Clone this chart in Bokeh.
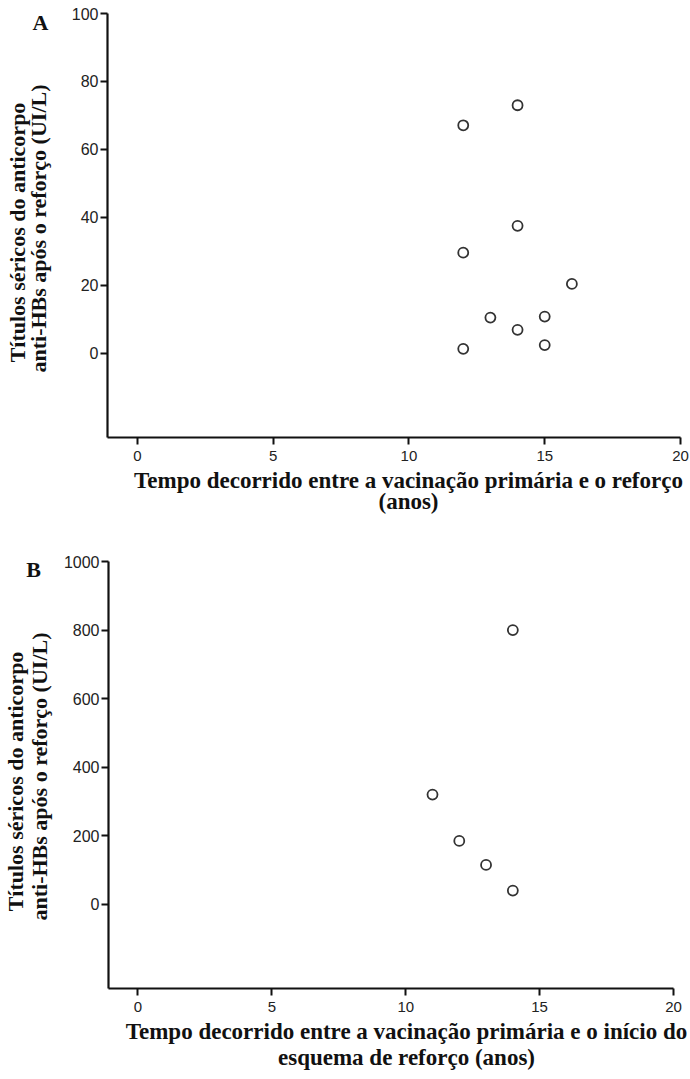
from bokeh.plotting import figure
from bokeh.layouts import column, row
from bokeh.models import Range1d, FixedTicker
from bokeh.core.properties import value
from bokeh.embed import file_html
from bokeh.resources import INLINE
import math

# Panel A: interval primary vaccination -> booster (years) vs anti-HBs titre (UI/L)
years_a = [14, 12, 14, 12, 16, 13, 15, 14, 15, 12]
titre_a = [73.0, 67.1, 37.5, 29.6, 20.4, 10.5, 10.8, 6.9, 2.4, 1.3]

# Panel B: interval primary vaccination -> start of booster schedule (years)
years_b = [14, 11, 12, 13, 14]
titre_b = [800, 320, 185, 115, 40]

x_ticks = [0, 5, 10, 15, 20]
y_ticks_a = [0, 20, 40, 60, 80, 100]
y_ticks_b = [0, 200, 400, 600, 800, 1000]

ylabel_1 = "Títulos séricos do anticorpo"
ylabel_2 = "anti-HBs após o reforço (UI/L)"
xlabel_a = ["Tempo decorrido entre a vacinação primária e o reforço", "(anos)"]
xlabel_b = ["Tempo decorrido entre a vacinação primária e o início do",
            "esquema de reforço (anos)"]

SERIF = "Liberation Serif"
SANS = "Liberation Sans"
PAGE_W = 690
STRIP_W = 60
AXIS_BOTTOM = 30


def scatter_panel(y_range, y_ticks, height, left, top, right):
    p = figure(width=PAGE_W - STRIP_W, height=height,
               min_border_left=left, min_border_top=top,
               min_border_right=right, min_border_bottom=AXIS_BOTTOM,
               x_range=Range1d(-1.1, 20), y_range=Range1d(*y_range),
               output_backend="svg", toolbar_location=None)
    p.grid.visible = False
    p.outline_line_color = None
    p.xaxis.ticker = FixedTicker(ticks=x_ticks)
    p.yaxis.ticker = FixedTicker(ticks=y_ticks)
    for ax in (p.xaxis[0], p.yaxis[0]):
        ax.axis_line_width = 2.2
        ax.axis_line_color = "#111111"
        ax.major_tick_line_width = 2
        ax.major_tick_line_color = "#111111"
        ax.major_tick_out = 7
        ax.major_tick_in = 0
        ax.minor_tick_out = 0
        ax.minor_tick_in = 0
        ax.major_label_text_font = SANS
        ax.major_label_text_color = "#222222"
    p.xaxis.major_label_text_font_size = "15px"
    p.yaxis.major_label_text_font_size = "16px"
    p.xaxis.major_label_standoff = 6
    p.yaxis.major_label_standoff = 2
    return p


def text_strip(width, height, top=0, bottom=0):
    # blank canvas whose data units are pixels measured from its top-left corner
    s = figure(width=width, height=height, x_range=Range1d(0, width),
               y_range=Range1d(height - bottom, top), min_border=0,
               output_backend="svg", toolbar_location=None)
    s.axis.visible = False
    s.grid.visible = False
    s.outline_line_color = None
    return s


def caption(s, texts, xs, ys, size="22px", angle=0.0):
    s.text(x=xs, y=ys, text=texts, angle=angle,
           text_font=value(SERIF), text_font_style="bold",
           text_font_size=size, text_color="#111111",
           text_align="center", text_baseline="middle")


# ---- Panel A ----
H_A = 467
main_a = scatter_panel((-24.8, 100), y_ticks_a, H_A, 47, 13, 10)
main_a.scatter(years_a, titre_a, marker="circle", size=10, fill_color="white",
               line_color="#333333", line_width=1.8)
left_a = text_strip(STRIP_W, H_A, top=13, bottom=AXIS_BOTTOM)
caption(left_a, ["A"], [40], [22])
caption(left_a, [ylabel_1, ylabel_2], [17, 38], [232, 228], angle=math.pi / 2)
below_a = text_strip(PAGE_W, 47)
caption(below_a, xlabel_a, [408, 408], [13, 34], size="23px")

# ---- Panel B ----
H_B = 504
main_b = scatter_panel((-245.6, 1000), y_ticks_b, H_B, 48, 47, 17)
main_b.scatter(years_b, titre_b, marker="circle", size=10, fill_color="white",
               line_color="#333333", line_width=1.8)
left_b = text_strip(STRIP_W, H_B, top=47, bottom=AXIS_BOTTOM)
caption(left_b, ["B"], [33], [55])
caption(left_b, [ylabel_1, ylabel_2], [15, 39], [267, 262], angle=math.pi / 2)
below_b = text_strip(PAGE_W, 61)
caption(below_b, xlabel_b, [406, 406], [13, 39], size="23px")

layout = column(row(left_a, main_a), below_a, row(left_b, main_b), below_b,
                spacing=0)
open("out.html", "w").write(file_html(layout, INLINE))
